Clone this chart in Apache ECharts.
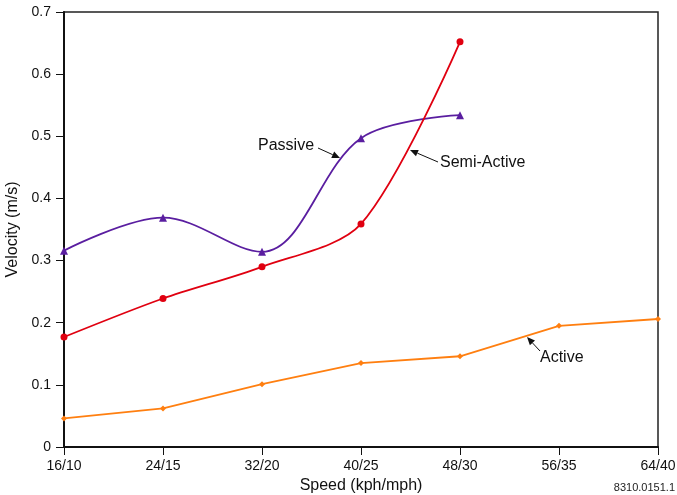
<!DOCTYPE html>
<html>
<head>
<meta charset="utf-8">
<script src="https://cdn.jsdelivr.net/npm/echarts@6/dist/echarts.min.js"></script>
<style>
html,body{margin:0;padding:0;background:#fff;}
#c{width:677px;height:495px;}
</style>
</head>
<body>
<div id="c"></div>
<script>
const categories = ['16/10','24/15','32/20','40/25','48/30','56/35','64/40'];
const passive = [0.316, 0.369, 0.314, 0.497, 0.534, null, null];
const semiActive = [0.177, 0.239, 0.290, 0.359, 0.652, null, null];
const active = [0.046, 0.062, 0.101, 0.135, 0.146, 0.195, 0.206];
const yTicks = [0, 0.1, 0.2, 0.3, 0.4, 0.5, 0.6, 0.7];

const FONT = '"Liberation Sans", Arial, sans-serif';
const chart = echarts.init(document.getElementById('c'));

function arrow(x1, y1, x2, y2) {
  const ang = Math.atan2(y2 - y1, x2 - x1);
  const L = 8, W = 3.5;
  const bx = x2 - L * Math.cos(ang), by = y2 - L * Math.sin(ang);
  const px = -Math.sin(ang) * W, py = Math.cos(ang) * W;
  return [
    { type: 'line', shape: { x1: x1, y1: y1, x2: bx, y2: by }, style: { stroke: '#111', lineWidth: 1 } },
    { type: 'polygon', shape: { points: [[x2, y2], [bx + px, by + py], [bx - px, by - py]] }, style: { fill: '#111' } }
  ];
}

const labelStyle = { fill: '#111', font: '16px ' + FONT };

chart.setOption({
  animation: false,
  backgroundColor: '#fff',
  grid: { left: 64, right: 19, top: 12, bottom: 48, show: true, borderColor: '#222', borderWidth: 1.5,
          containLabel: false, outerBoundsMode: 'none' },
  xAxis: {
    type: 'category',
    data: categories,
    boundaryGap: false,
    name: 'Speed (kph/mph)',
    nameLocation: 'middle',
    nameGap: 29,
    nameTextStyle: { color: '#111', fontSize: 16, fontFamily: FONT },
    axisLine: { lineStyle: { color: '#111', width: 2 } },
    axisTick: { show: true, length: 8, lineStyle: { color: '#111' } },
    axisLabel: { color: '#111', fontSize: 14, fontFamily: FONT, margin: 12 },
    splitLine: { show: false }
  },
  yAxis: {
    type: 'value',
    min: 0, max: 0.7, interval: 0.1,
    name: 'Velocity (m/s)',
    nameLocation: 'middle',
    nameGap: 41,
    nameTextStyle: { color: '#111', fontSize: 16, fontFamily: FONT },
    axisLine: { show: true, lineStyle: { color: '#111', width: 2 } },
    axisTick: { show: true, length: 8, lineStyle: { color: '#111' } },
    axisLabel: {
      color: '#111', fontSize: 14, fontFamily: FONT, margin: 13,
      formatter: function (v) {
        const t = yTicks.find(function (k) { return Math.abs(k - v) < 1e-9; });
        return t === 0 ? '0' : (t !== undefined ? t.toFixed(1) : '');
      }
    },
    splitLine: { show: false }
  },
  series: [
    {
      name: 'Passive', type: 'line', data: passive, smooth: 0.35,
      symbol: 'triangle', symbolSize: 8,
      lineStyle: { color: '#5a1ea0', width: 1.8 },
      itemStyle: { color: '#5a1ea0' }
    },
    {
      name: 'Semi-Active', type: 'line', data: semiActive, smooth: 0.3,
      symbol: 'circle', symbolSize: 7,
      lineStyle: { color: '#e00010', width: 1.8 },
      itemStyle: { color: '#e00010' }
    },
    {
      name: 'Active', type: 'line', data: active, smooth: false,
      symbol: 'diamond', symbolSize: 6,
      lineStyle: { color: '#ff7f10', width: 1.8 },
      itemStyle: { color: '#ff7f10' }
    }
  ],
  graphic: [
    { type: 'text', left: 258, top: 138, style: Object.assign({ text: 'Passive' }, labelStyle) },
    ...arrow(318, 148, 340, 158),
    { type: 'text', left: 440, top: 155, style: Object.assign({ text: 'Semi-Active' }, labelStyle) },
    ...arrow(438, 162, 410, 150),
    { type: 'text', left: 540, top: 350, style: Object.assign({ text: 'Active' }, labelStyle) },
    ...arrow(540, 351, 527, 337),
    { type: 'text', right: 2, top: 482, style: { text: '8310.0151.1', fill: '#222', font: '11px ' + FONT } }
  ]
});
</script>
</body>
</html>
